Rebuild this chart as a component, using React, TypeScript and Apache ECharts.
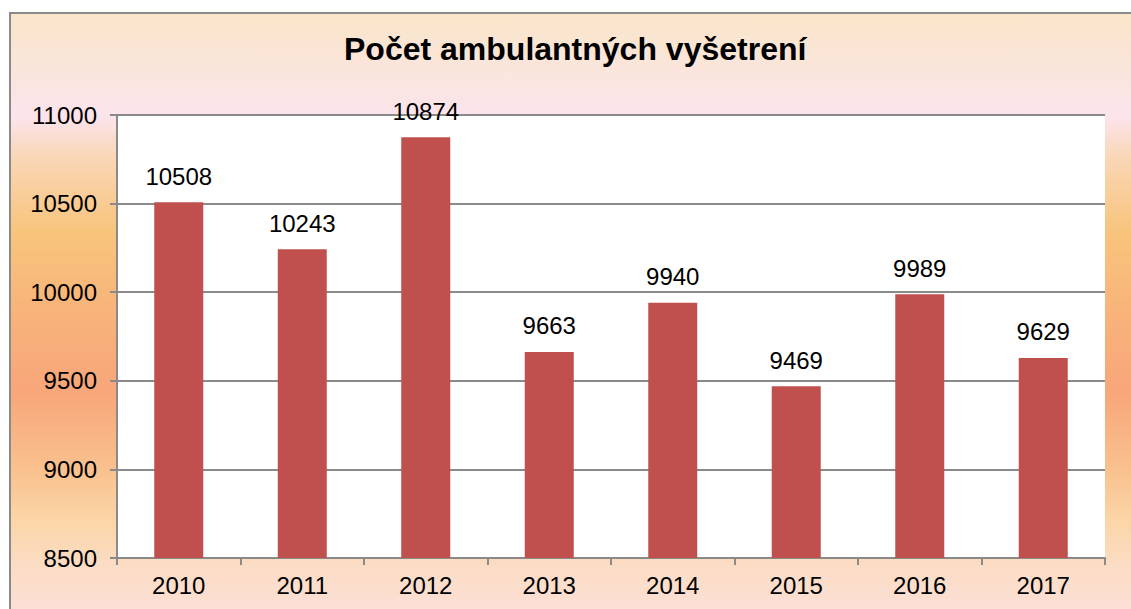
import React, { useEffect, useRef } from "react";
import * as echarts from "echarts";

const years = ["2010", "2011", "2012", "2013", "2014", "2015", "2016", "2017"];
const visits = [10508, 10243, 10874, 9663, 9940, 9469, 9989, 9629];
const titleText = "Počet ambulantných vyšetrení";

export default function App() {
  const ref = useRef<HTMLDivElement>(null);
  useEffect(() => {
    if (!ref.current) return;
    const chart = echarts.init(ref.current, null, { renderer: "svg" });
    const font = "'Liberation Sans', Arial, sans-serif";
    const gray = "#8a8a8a";
    chart.setOption({
      animation: false,
      graphic: [
        {
          type: "rect",
          z: -10,
          silent: true,
          shape: { x: 10, y: 13, width: 1140, height: 610 },
          style: {
            stroke: gray,
            lineWidth: 2,
            fill: new echarts.graphic.LinearGradient(0, 0, 0, 1, [
              { offset: 0, color: "#f9e6c8" },
              { offset: 0.17, color: "#fce4ec" },
              { offset: 0.24, color: "#f9d6b4" },
              { offset: 0.36, color: "#f8c47c" },
              { offset: 0.5, color: "#f8b27a" },
              { offset: 0.62, color: "#f8a67a" },
              { offset: 0.74, color: "#f9bf8c" },
              { offset: 0.83, color: "#fbd5a6" },
              { offset: 0.9, color: "#fbdcc2" },
              { offset: 1, color: "#fde0dc" },
            ]),
          },
        },
      ],
      title: {
        text: titleText,
        left: 344,
        top: 33,
        padding: 0,
        textStyle: { fontFamily: font, fontSize: 32, fontWeight: "bold", color: "#000" },
      },
      grid: { left: 117, right: 26, top: 115, bottom: 51, containLabel: false, show: true, backgroundColor: "#ffffff", borderWidth: 0 },
      xAxis: {
        type: "category",
        data: years,
        axisLine: { show: true, lineStyle: { color: gray, width: 2 } },
        axisTick: { show: true, alignWithLabel: false, length: 7, lineStyle: { color: gray, width: 2 } },
        axisLabel: { fontFamily: font, fontSize: 24, color: "#000", margin: 15 },
        splitLine: { show: false },
      },
      yAxis: {
        type: "value",
        min: 8500,
        max: 11000,
        interval: 500,
        axisLine: { show: true, lineStyle: { color: gray, width: 2 } },
        axisTick: { show: true, length: 7, lineStyle: { color: gray, width: 2 } },
        axisLabel: {
          fontFamily: font,
          fontSize: 24,
          color: "#000",
          margin: 20,
          formatter: (v: number) => String(v),
        },
        splitLine: { show: true, lineStyle: { color: gray, width: 2 } },
      },
      series: [
        {
          type: "bar",
          data: visits,
          barWidth: 49,
          itemStyle: { color: "#c0504d" },
          label: {
            show: true,
            position: "top",
            distance: 14,
            fontFamily: font,
            fontSize: 24,
            color: "#000",
          },
        },
      ],
    });
    return () => chart.dispose();
  }, []);
  return (
    <div
      ref={ref}
      style={{ position: "fixed", left: 0, top: 0, width: 1131, height: 609, background: "#ffffff" }}
    />
  );
}
